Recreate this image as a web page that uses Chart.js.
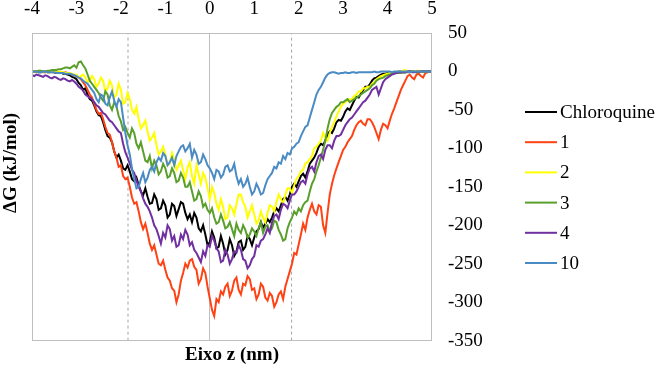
<!DOCTYPE html>
<html>
<head>
<meta charset="utf-8">
<title>ΔG ao longo do eixo z</title>
<script src="https://cdn.jsdelivr.net/npm/chart.js@4.4.1/dist/chart.umd.min.js"></script>
<style>
  html, body { margin: 0; padding: 0; background: #fff; }
  #wrap { width: 661px; height: 368px; }
</style>
</head>
<body>
<div id="wrap"><canvas id="chart-dg" width="661" height="368"></canvas></div>
<script>
// Free-energy profile (ΔG, kJ/mol) along the membrane normal (z, nm)

/* ──────────────────────────────────────────────────────────────
   Data (one value every 0.05 nm, one row per nm)
   ────────────────────────────────────────────────────────────── */
const zNm = [
  -4.00,-3.95,-3.90,-3.85,-3.80,-3.75,-3.70,-3.65,-3.60,-3.55,-3.50,-3.45,-3.40,-3.35,-3.30,-3.25,-3.20,-3.15,-3.10,-3.05,
  -3.00,-2.95,-2.90,-2.85,-2.80,-2.75,-2.70,-2.65,-2.60,-2.55,-2.50,-2.45,-2.40,-2.35,-2.30,-2.25,-2.20,-2.15,-2.10,-2.05,
  -2.00,-1.95,-1.90,-1.85,-1.80,-1.75,-1.70,-1.65,-1.60,-1.55,-1.50,-1.45,-1.40,-1.35,-1.30,-1.25,-1.20,-1.15,-1.10,-1.05,
  -1.00,-0.95,-0.90,-0.85,-0.80,-0.75,-0.70,-0.65,-0.60,-0.55,-0.50,-0.45,-0.40,-0.35,-0.30,-0.25,-0.20,-0.15,-0.10,-0.05,
   0.00, 0.05, 0.10, 0.15, 0.20, 0.25, 0.30, 0.35, 0.40, 0.45, 0.50, 0.55, 0.60, 0.65, 0.70, 0.75, 0.80, 0.85, 0.90, 0.95,
   1.00, 1.05, 1.10, 1.15, 1.20, 1.25, 1.30, 1.35, 1.40, 1.45, 1.50, 1.55, 1.60, 1.65, 1.70, 1.75, 1.80, 1.85, 1.90, 1.95,
   2.00, 2.05, 2.10, 2.15, 2.20, 2.25, 2.30, 2.35, 2.40, 2.45, 2.50, 2.55, 2.60, 2.65, 2.70, 2.75, 2.80, 2.85, 2.90, 2.95,
   3.00, 3.05, 3.10, 3.15, 3.20, 3.25, 3.30, 3.35, 3.40, 3.45, 3.50, 3.55, 3.60, 3.65, 3.70, 3.75, 3.80, 3.85, 3.90, 3.95,
   4.00, 4.05, 4.10, 4.15, 4.20, 4.25, 4.30, 4.35, 4.40, 4.45, 4.50, 4.55, 4.60, 4.65, 4.70, 4.75, 4.80, 4.85, 4.90, 4.95,
   5.00,
];

const chloroquine = [
  0,0,0,-1,-1,0,0,-1,-1,0,-1,-2,-2,-1,-3,-3,-4,-5,-7,-8,
  -10,-15,-18,-24,-22,-30,-36,-38,-44,-52,-57,-58,-66,-76,-84,-86,-92,-104,-112,-108,
  -116,-126,-128,-122,-130,-140,-143,-138,-148,-156,-161,-152,-163,-172,-171,-160,-166,-180,-178,-168,
  -174,-190,-186,-172,-175,-188,-179,-170,-172,-184,-192,-186,-196,-184,-190,-204,-208,-200,-212,-226,
  -222,-208,-216,-230,-228,-214,-224,-238,-232,-218,-226,-240,-234,-222,-220,-232,-228,-214,-218,-226,
  -216,-208,-205,-196,-203,-198,-192,-196,-190,-182,-178,-182,-174,-166,-163,-168,-160,-150,-146,-150,
  -143,-136,-133,-138,-130,-120,-116,-112,-106,-98,-94,-96,-90,-82,-78,-80,-74,-66,-63,-64,
  -59,-52,-48,-50,-44,-38,-33,-34,-29,-24,-20,-20,-17,-12,-9,-8,-6,-4,-3,-3,
  -2,-2,-1,-1,-1,0,0,-1,-1,0,0,0,0,-1,-1,0,0,0,0,0,
  0,
];

const comp1 = [
  0,0,0,0,0,-1,-1,0,0,-1,-1,0,-1,-2,-2,-1,-2,-3,-4,-5,
  -6,-8,-10,-14,-18,-24,-30,-34,-42,-50,-55,-54,-62,-72,-80,-82,-92,-104,-112,-124,
  -122,-136,-140,-138,-150,-164,-172,-170,-182,-196,-205,-198,-210,-224,-232,-226,-238,-250,-252,-246,
  -258,-268,-272,-282,-285,-300,-290,-272,-262,-250,-255,-246,-244,-254,-258,-276,-270,-256,-262,-280,
  -295,-310,-318,-296,-300,-286,-290,-280,-276,-292,-285,-272,-268,-284,-290,-276,-278,-266,-270,-284,
  -282,-296,-290,-276,-280,-294,-298,-288,-292,-306,-300,-290,-286,-296,-280,-270,-260,-250,-236,-238,
  -225,-212,-198,-206,-190,-180,-172,-182,-186,-174,-176,-200,-210,-184,-160,-146,-135,-126,-118,-110,
  -102,-98,-92,-88,-84,-76,-70,-66,-64,-68,-70,-62,-62,-66,-72,-80,-88,-76,-68,-70,
  -74,-64,-55,-48,-40,-32,-24,-18,-12,-6,-4,-8,-10,-4,-3,-6,-8,-2,-1,0,
  0,
];

const comp2 = [
  0,0,0,1,0,0,0,-1,-1,0,0,-1,-1,0,-1,-2,-2,-2,-3,-5,
  -4,-8,-6,-4,-8,-14,-12,-6,-10,-20,-16,-8,-12,-26,-22,-12,-18,-34,-30,-16,
  -24,-42,-40,-28,-36,-50,-55,-46,-62,-74,-70,-64,-78,-90,-86,-80,-96,-108,-104,-98,
  -108,-122,-120,-106,-114,-128,-122,-116,-128,-140,-125,-118,-136,-146,-122,-134,-146,-132,-138,-152,
  -166,-150,-158,-172,-180,-166,-176,-192,-190,-174,-178,-186,-172,-160,-160,-170,-176,-190,-182,-174,
  -186,-198,-194,-182,-190,-196,-184,-174,-176,-182,-170,-160,-166,-172,-160,-152,-152,-158,-148,-140,
  -136,-130,-128,-120,-118,-114,-110,-100,-98,-94,-90,-80,-86,-90,-80,-72,-66,-58,-52,-46,
  -42,-40,-38,-36,-36,-32,-30,-26,-26,-22,-22,-20,-20,-16,-14,-10,-8,-6,-5,-4,
  -3,-2,-2,-1,-1,0,0,1,2,0,-1,0,0,1,1,0,-1,0,0,0,
  0,
];

const comp3 = [
  0,0,0,1,1,0,0,1,1,2,2,2,3,3,4,5,5,4,6,8,
  5,12,13,8,4,-4,-12,-16,-20,-24,-28,-34,-38,-26,-30,-44,-50,-40,-45,-58,
  -65,-76,-72,-80,-86,-74,-80,-94,-100,-92,-104,-116,-118,-110,-126,-116,-122,-134,-130,-120,
  -126,-138,-136,-126,-132,-144,-142,-132,-138,-150,-150,-144,-156,-168,-166,-156,-162,-176,-172,-180,
  -184,-178,-190,-198,-196,-186,-194,-204,-202,-196,-205,-214,-198,-206,-210,-200,-206,-216,-212,-204,
  -208,-214,-204,-196,-210,-202,-200,-208,-204,-194,-196,-206,-212,-220,-218,-204,-196,-190,-182,-186,
  -178,-182,-174,-170,-168,-156,-146,-140,-130,-122,-112,-102,-90,-74,-62,-54,-50,-46,-44,-40,
  -40,-38,-36,-40,-38,-36,-34,-32,-30,-28,-26,-24,-22,-18,-16,-12,-10,-9,-8,-6,
  -5,-4,-3,-2,-2,-2,-2,-1,-1,-1,-1,0,0,-1,-1,0,0,0,0,0,
  0,
];

const comp4 = [
  -5,-6,-4,-5,-6,-7,-5,-6,-8,-9,-7,-8,-10,-11,-9,-10,-12,-13,-11,-13,
  -16,-20,-22,-25,-30,-32,-34,-36,-40,-44,-46,-50,-54,-56,-60,-64,-66,-70,-74,-78,
  -80,-94,-105,-112,-120,-128,-132,-142,-150,-156,-165,-172,-176,-182,-190,-200,-205,-214,-224,-210,
  -216,-200,-205,-220,-214,-228,-226,-212,-218,-206,-212,-226,-222,-232,-236,-242,-248,-234,-240,-226,
  -228,-214,-220,-230,-234,-248,-246,-232,-238,-250,-244,-234,-236,-226,-232,-244,-246,-256,-252,-244,
  -240,-226,-228,-220,-218,-212,-204,-210,-196,-188,-186,-192,-180,-172,-174,-178,-168,-160,-160,-156,
  -150,-144,-142,-146,-134,-126,-124,-130,-118,-110,-108,-114,-102,-96,-96,-100,-90,-84,-84,-82,
  -76,-70,-66,-62,-60,-56,-52,-48,-44,-40,-38,-34,-30,-24,-22,-20,-30,-22,-14,-10,
  -8,-6,-4,-3,-2,-1,-1,-1,-1,0,0,-1,-1,0,0,0,0,0,0,0,
  0,
];

const comp10 = [
  0,0,0,-1,-1,0,0,-1,-1,-1,-1,-2,-2,-2,-2,-3,-3,-3,-4,-5,
  -6,-8,-9,-12,-14,-16,-20,-24,-28,-36,-40,-30,-32,-42,-44,-34,-26,-38,-46,-36,
  -40,-60,-80,-96,-108,-126,-140,-152,-150,-140,-132,-144,-138,-128,-124,-130,-118,-112,-116,-106,
  -110,-122,-118,-112,-122,-110,-104,-98,-96,-104,-100,-94,-112,-102,-108,-120,-118,-108,-114,-122,
  -126,-132,-140,-128,-130,-138,-134,-124,-122,-130,-128,-120,-136,-146,-140,-150,-146,-138,-150,-160,
  -156,-146,-152,-160,-158,-148,-140,-136,-132,-124,-126,-118,-120,-110,-114,-106,-108,-100,-98,-94,
  -92,-84,-78,-72,-70,-60,-50,-40,-30,-24,-20,-14,-8,-4,-2,-1,-1,-2,-3,-2,
  -2,-1,-2,-2,-1,-1,-2,-1,-1,-1,-1,-1,-1,-1,0,-1,-1,0,0,0,
  0,0,-1,0,0,0,0,0,0,0,-1,0,0,0,0,0,0,0,0,0,
  0,
];

const seriesLabels = ["Chloroquine", "1", "2", "3", "4", "10"];
const seriesValues = [chloroquine, comp1, comp2, comp3, comp4, comp10];

const membraneEdges = [-1.84, 1.84];   // dashed guides (nm)
const zRange        = [-4, 5];
const dgRange       = [-350, 50];
const dgStep        = 50;

/* ──────────────────────────────────────────────────────────────
   Styles
   ────────────────────────────────────────────────────────────── */
const seriesColors = ["#000000", "#FF4214", "#FFFF00", "#5A9F2C", "#7030A0", "#4A8BC4"];
const FONT   = "'Liberation Serif', 'Times New Roman', serif";
const FSIZE  = 19;
const FRAME  = "#bfbfbf";

/* ──────────────────────────────────────────────────────────────
   Datasets
   ────────────────────────────────────────────────────────────── */
const datasets = seriesLabels.map((label, i) => ({
  label,
  data: zNm.map((z, k) => ({ x: z, y: seriesValues[i][k] })),
  borderColor: seriesColors[i],
  backgroundColor: seriesColors[i],
  borderWidth: 2,
  pointRadius: 0,
  tension: 0,
  order: seriesLabels.length - i,     // later series drawn on top, like Excel
  inLegend: true,
}));

membraneEdges.forEach(z => {
  datasets.push({
    label: "",
    data: [{ x: z, y: dgRange[0] }, { x: z, y: dgRange[1] }],
    borderColor: "#a6a6a6",
    borderWidth: 1,
    borderDash: [3, 3],
    pointRadius: 0,
    order: 20,
    inLegend: false,
  });
});

/* ──────────────────────────────────────────────────────────────
   Frame, axis titles and side legend
   ────────────────────────────────────────────────────────────── */
const decorPlugin = {
  id: "decor",
  afterDraw(chart) {
    const { ctx, chartArea: a } = chart;
    ctx.save();

    // plot frame
    ctx.strokeStyle = FRAME;
    ctx.lineWidth = 1;
    ctx.strokeRect(Math.round(a.left) + 0.5, Math.round(a.top) + 0.5,
                   Math.round(a.right - a.left) - 1, Math.round(a.bottom - a.top) - 1);

    // axis titles
    ctx.fillStyle = "#000";
    ctx.font = `bold ${FSIZE}px ${FONT}`;
    ctx.textAlign = "center";
    ctx.textBaseline = "middle";
    ctx.fillText("Eixo z (nm)", (a.left + a.right) / 2, 355);

    ctx.save();
    ctx.translate(11, 163);
    ctx.rotate(-Math.PI / 2);
    ctx.fillText("ΔG (kJ/mol)", 0, 0);
    ctx.restore();

    // legend
    ctx.font = `${FSIZE}px ${FONT}`;
    ctx.textAlign = "left";
    chart.data.datasets.filter(ds => ds.inLegend).forEach((ds, i) => {
      const y = 112 + i * 30.2;
      ctx.strokeStyle = ds.borderColor;
      ctx.lineWidth = 2;
      ctx.beginPath();
      ctx.moveTo(525, y);
      ctx.lineTo(557, y);
      ctx.stroke();
      ctx.fillStyle = "#000";
      ctx.fillText(ds.label, 560, y + 1);
    });

    ctx.restore();
  },
};

/* ──────────────────────────────────────────────────────────────
   Chart
   ────────────────────────────────────────────────────────────── */
const ctx = document.getElementById("chart-dg").getContext("2d");

new Chart(ctx, {
  type: "line",
  data: { datasets },
  options: {
    responsive: false,
    animation: false,
    devicePixelRatio: 1,
    layout: { padding: { left: 32, right: 0, top: 0, bottom: 25 } },
    plugins: {
      legend: { display: false },
      tooltip: { enabled: false },
    },
    scales: {
      x: {
        type: "linear",
        position: "top",
        min: zRange[0], max: zRange[1],
        ticks: { stepSize: 1, color: "#000", padding: 13, font: { family: FONT, size: FSIZE } },
        grid: {
          drawTicks: false,
          color: c => (c.tick && c.tick.value === 0 ? FRAME : "rgba(0,0,0,0)"),
          lineWidth: 1,
        },
        border: { display: false },
        afterFit: s => { s.height = 33; },
      },
      y: {
        type: "linear",
        position: "right",
        min: dgRange[0], max: dgRange[1],
        ticks: { stepSize: dgStep, color: "#000", padding: 16, font: { family: FONT, size: FSIZE } },
        grid: { display: false, drawTicks: false },
        border: { display: false },
        afterFit: s => { s.width = 229; },
      },
    },
  },
  plugins: [decorPlugin],
});
</script>
</body>
</html>
